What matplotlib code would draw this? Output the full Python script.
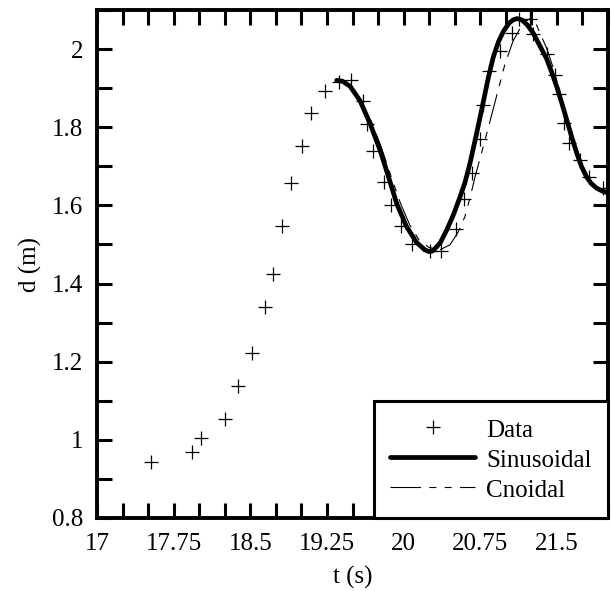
import numpy as np
import matplotlib
matplotlib.use("Agg")
import matplotlib.pyplot as plt
from matplotlib.ticker import FixedLocator, MultipleLocator

plt.rcParams['font.family'] = ['Liberation Serif', 'DejaVu Serif']
plt.rcParams['lines.scale_dashes'] = False

# Measured data (t in s, d in m)
data_t = [17.53, 17.93, 18.02, 18.25, 18.38, 18.52, 18.64, 18.72, 18.81, 18.90,
          19.01, 19.09, 19.23, 19.37, 19.49, 19.60, 19.64, 19.70, 19.81, 19.88,
          19.97, 20.08, 20.26, 20.37, 20.51, 20.59, 20.67, 20.75, 20.78, 20.84,
          20.94, 21.06, 21.13, 21.24, 21.27, 21.40, 21.48, 21.52, 21.57, 21.62,
          21.73, 21.81, 21.95]
data_d = [0.944, 0.969, 1.004, 1.054, 1.138, 1.223, 1.341, 1.425, 1.546, 1.658,
          1.752, 1.837, 1.893, 1.917, 1.920, 1.866, 1.808, 1.740, 1.661, 1.601,
          1.546, 1.501, 1.484, 1.484, 1.540, 1.616, 1.682, 1.769, 1.857, 1.943,
          1.995, 2.041, 2.076, 2.076, 2.038, 1.987, 1.934, 1.886, 1.812, 1.759,
          1.717, 1.672, 1.644]

# Sinusoidal model curve
sin_t = [19.345, 19.40, 19.476, 19.573, 19.671, 19.769, 19.85, 19.932, 20.03, 20.128,
         20.20, 20.242, 20.28, 20.324, 20.36, 20.422, 20.486, 20.55, 20.60, 20.65,
         20.715, 20.78, 20.83, 20.878, 20.93, 20.976, 21.03, 21.073, 21.11, 21.155,
         21.21, 21.27, 21.33, 21.40, 21.45, 21.498, 21.55, 21.596, 21.645, 21.694,
         21.74, 21.792, 21.84, 21.889, 21.95, 22.0]
sin_d = [1.920, 1.918, 1.905, 1.868, 1.810, 1.742, 1.675, 1.605, 1.545, 1.505,
         1.488, 1.482, 1.483, 1.494, 1.505, 1.537, 1.575, 1.620, 1.658, 1.708,
         1.785, 1.865, 1.928, 1.980, 2.020, 2.045, 2.066, 2.075, 2.078, 2.075,
         2.062, 2.040, 2.010, 1.975, 1.940, 1.904, 1.860, 1.819, 1.775, 1.734,
         1.700, 1.672, 1.655, 1.644, 1.636, 1.632]

# Cnoidal model curve
cn_t = [19.345, 19.42, 19.50, 19.58, 19.68, 19.78, 19.88, 19.97, 20.06, 20.15,
        20.25, 20.36, 20.454, 20.53, 20.60, 20.65, 20.70, 20.78, 20.86, 20.93,
        20.99, 21.07, 21.17, 21.237, 21.30, 21.40, 21.46, 21.52, 21.58, 21.64,
        21.70, 21.76, 21.82, 21.88, 21.94, 22.0]
cn_d = [1.920, 1.915, 1.900, 1.870, 1.818, 1.750, 1.672, 1.605, 1.550, 1.512,
        1.492, 1.487, 1.499, 1.530, 1.571, 1.620, 1.674, 1.751, 1.830, 1.900,
        1.960, 2.020, 2.067, 2.078, 2.062, 2.002, 1.955, 1.900, 1.840, 1.782,
        1.732, 1.692, 1.665, 1.648, 1.640, 1.636]

x_tick_labels = [17, 17.75, 18.5, 19.25, 20, 20.75, 21.5]
y_tick_labels = [0.8, 1, 1.2, 1.4, 1.6, 1.8, 2]

FS = 18

fig = plt.figure(figsize=(6.11, 5.91), dpi=100)
ax = fig.add_axes([97 / 611, 73 / 591, 511 / 611, 508 / 591])

ax.plot(data_t, data_d, linestyle='none', marker='+', markersize=10,
        markeredgewidth=0.9, color='black', label='Data')
ax.plot(sin_t, sin_d, color='black', linewidth=3.4, label='Sinusoidal',
        solid_joinstyle='round', solid_capstyle='round')
ax.plot(cn_t, cn_d, color='black', linewidth=0.8, dashes=(22, 6, 5, 6, 5, 6),
        label='Cnoidal')

ax.set_xlim(17, 22)
ax.set_ylim(0.8, 2.1)

ax.xaxis.set_major_locator(FixedLocator(x_tick_labels))
ax.set_xticklabels([f"{v:g}" for v in x_tick_labels])
ax.xaxis.set_minor_locator(MultipleLocator(0.25))
ax.yaxis.set_major_locator(FixedLocator(y_tick_labels))
ax.set_yticklabels([f"{v:g}" for v in y_tick_labels])
ax.yaxis.set_minor_locator(MultipleLocator(0.1))

for s in ax.spines.values():
    s.set_linewidth(2.8)

ax.tick_params(which='both', direction='in', top=True, right=True,
               length=11, width=2.2, labelsize=FS, color='black')
ax.tick_params(axis='x', which='major', pad=11)
ax.tick_params(axis='y', which='major', pad=10)

ax.set_xlabel('t (s)', fontsize=FS, labelpad=8)
ax.set_ylabel('d (m)', fontsize=FS, labelpad=7)

leg = ax.legend(loc='lower right', bbox_to_anchor=(1, 0), borderaxespad=0,
                fontsize=FS, frameon=True, fancybox=False, framealpha=1,
                edgecolor='black', handlelength=3.4, handletextpad=0.45,
                handleheight=1.0, labelspacing=0.2, borderpad=0.65)
leg.get_frame().set_linewidth(2.2)

fig.savefig('out.png', dpi=100)
